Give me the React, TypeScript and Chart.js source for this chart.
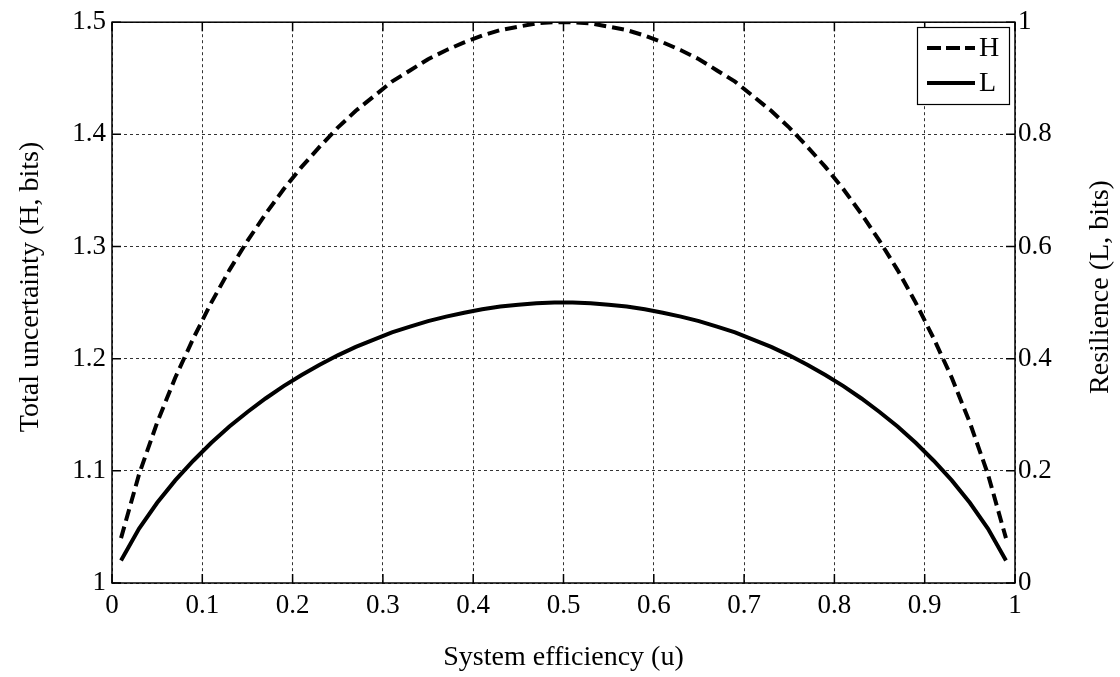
import { useEffect, useRef } from 'react';
import { Chart, registerables } from 'chart.js';

Chart.register(...registerables);

// ---- data ----
const efficiency = [
  0.01, 0.03, 0.05, 0.07, 0.09, 0.11, 0.13, 0.15, 0.17, 0.19,
  0.21, 0.23, 0.25, 0.27, 0.29, 0.31, 0.33, 0.35, 0.37, 0.39,
  0.41, 0.43, 0.45, 0.47, 0.49, 0.51, 0.53, 0.55, 0.57, 0.59,
  0.61, 0.63, 0.65, 0.67, 0.69, 0.71, 0.73, 0.75, 0.77, 0.79,
  0.81, 0.83, 0.85, 0.87, 0.89, 0.91, 0.93, 0.95, 0.97, 0.99,
];
const totalUncertaintyH = [
  1.040, 1.097, 1.143, 1.183, 1.218, 1.250, 1.279, 1.305, 1.329, 1.351,
  1.371, 1.389, 1.406, 1.421, 1.434, 1.447, 1.457, 1.467, 1.475, 1.482,
  1.488, 1.493, 1.496, 1.499, 1.500, 1.500, 1.499, 1.496, 1.493, 1.488,
  1.482, 1.475, 1.467, 1.457, 1.447, 1.434, 1.421, 1.406, 1.389, 1.371,
  1.351, 1.329, 1.305, 1.279, 1.250, 1.218, 1.183, 1.143, 1.097, 1.040,
];
const resilienceL = [
  0.040, 0.097, 0.143, 0.183, 0.218, 0.250, 0.279, 0.305, 0.329, 0.351,
  0.371, 0.389, 0.406, 0.421, 0.434, 0.447, 0.457, 0.467, 0.475, 0.482,
  0.488, 0.493, 0.496, 0.499, 0.500, 0.500, 0.499, 0.496, 0.493, 0.488,
  0.482, 0.475, 0.467, 0.457, 0.447, 0.434, 0.421, 0.406, 0.389, 0.371,
  0.351, 0.329, 0.305, 0.279, 0.250, 0.218, 0.183, 0.143, 0.097, 0.040,
];
const seriesNames = ['H', 'L'];

const xTickValues = [0, 0.1, 0.2, 0.3, 0.4, 0.5, 0.6, 0.7, 0.8, 0.9, 1];
const xTickLabels = ['0', '0.1', '0.2', '0.3', '0.4', '0.5', '0.6', '0.7', '0.8', '0.9', '1'];
const leftTickValues = [1, 1.1, 1.2, 1.3, 1.4, 1.5];
const leftTickLabels = ['1', '1.1', '1.2', '1.3', '1.4', '1.5'];
const rightTickValues = [0, 0.2, 0.4, 0.6, 0.8, 1];
const rightTickLabels = ['0', '0.2', '0.4', '0.6', '0.8', '1'];

const xTitle = 'System efficiency (u)';
const leftTitle = 'Total uncertainty (H, bits)';
const rightTitle = 'Resilience (L, bits)';

const FONT = "'Liberation Serif', 'Times New Roman', serif";
const TICK_FONT = { family: FONT, size: 27 };

const framePlugin = {
  id: 'matlabFrame',
  afterDraw(chart: any) {
    const { ctx, chartArea } = chart;
    const { left, right, top, bottom } = chartArea;
    const xs = chart.scales.x;
    const yl = chart.scales.y;
    const yr = chart.scales.y1;
    const tl = 9;
    ctx.save();
    ctx.strokeStyle = '#000';
    ctx.lineWidth = 1.5;
    ctx.setLineDash([]);
    // inward tick marks
    ctx.beginPath();
    xs.ticks.forEach((t: any) => {
      const px = xs.getPixelForValue(t.value);
      ctx.moveTo(px, bottom);
      ctx.lineTo(px, bottom - tl);
      ctx.moveTo(px, top);
      ctx.lineTo(px, top + tl);
    });
    yl.ticks.forEach((t: any) => {
      const py = yl.getPixelForValue(t.value);
      ctx.moveTo(left, py);
      ctx.lineTo(left + tl, py);
    });
    yr.ticks.forEach((t: any) => {
      const py = yr.getPixelForValue(t.value);
      ctx.moveTo(right, py);
      ctx.lineTo(right - tl, py);
    });
    ctx.stroke();
    // frame
    ctx.strokeRect(left, top, right - left, bottom - top);

    // legend
    const bx = 917, by = 27, bw = 92, bh = 77;
    ctx.fillStyle = '#fff';
    ctx.fillRect(bx, by, bw, bh);
    ctx.lineWidth = 1.2;
    ctx.strokeRect(bx + 0.5, by + 0.5, bw, bh);
    const rows = [48, 83];
    chart.data.datasets.forEach((ds: any, i: number) => {
      const y = rows[i];
      ctx.save();
      ctx.strokeStyle = ds.borderColor;
      ctx.lineWidth = ds.borderWidth;
      ctx.setLineDash(ds.borderDash && ds.borderDash.length ? [14, 5] : []);
      ctx.beginPath();
      ctx.moveTo(927, y);
      ctx.lineTo(975, y);
      ctx.stroke();
      ctx.restore();
      ctx.fillStyle = '#000';
      ctx.font = `28px ${FONT}`;
      ctx.textAlign = 'left';
      ctx.textBaseline = 'middle';
      ctx.fillText(ds.label, 979, y + 1);
    });

    // axis titles
    ctx.fillStyle = '#000';
    ctx.font = `28px ${FONT}`;
    ctx.textAlign = 'center';
    ctx.textBaseline = 'alphabetic';
    ctx.fillText(xTitle, (left + right) / 2, 665);
    ctx.save();
    ctx.translate(38, 287);
    ctx.rotate(-Math.PI / 2);
    ctx.fillText(leftTitle, 0, 0);
    ctx.restore();
    ctx.save();
    ctx.translate(1108, 287);
    ctx.rotate(-Math.PI / 2);
    ctx.fillText(rightTitle, 0, 0);
    ctx.restore();
    ctx.restore();
  },
};

export default function App() {
  const ref = useRef<HTMLCanvasElement | null>(null);
  useEffect(() => {
    if (!ref.current) return;
    const chart = new Chart(ref.current, {
      type: 'line',
      data: {
        datasets: [
          {
            label: seriesNames[0],
            data: efficiency.map((u, i) => ({ x: u, y: totalUncertaintyH[i] })),
            yAxisID: 'y',
            borderColor: '#000',
            borderWidth: 4,
            borderDash: [12, 6],
            pointRadius: 0,
            fill: false,
            tension: 0,
          },
          {
            label: seriesNames[1],
            data: efficiency.map((u, i) => ({ x: u, y: resilienceL[i] })),
            yAxisID: 'y1',
            borderColor: '#000',
            borderWidth: 4,
            borderDash: [],
            pointRadius: 0,
            fill: false,
            tension: 0,
          },
        ],
      },
      options: {
        animation: false,
        responsive: false,
        devicePixelRatio: 1,
        layout: { padding: { top: 19, left: 0, right: 0, bottom: 0 } },
        plugins: { legend: { display: false }, tooltip: { enabled: false } },
        scales: {
          x: {
            type: 'linear',
            min: 0,
            max: 1,
            afterBuildTicks: (s: any) => {
              s.ticks = xTickValues.map((v) => ({ value: v }));
            },
            afterFit: (s: any) => {
              s.height = 94;
            },
            ticks: {
              callback: (_v: any, i: number) => xTickLabels[i],
              font: TICK_FONT,
              color: '#000',
              padding: 7,
              maxRotation: 0,
              autoSkip: false,
            },
            grid: { color: '#333', lineWidth: 1, drawTicks: false },
            border: { display: false, dash: [3, 3] },
          },
          y: {
            type: 'linear',
            position: 'left',
            min: 1,
            max: 1.5,
            afterBuildTicks: (s: any) => {
              s.ticks = leftTickValues.map((v) => ({ value: v }));
            },
            afterFit: (s: any) => {
              s.width = 112;
            },
            ticks: {
              callback: (_v: any, i: number) => leftTickLabels[i],
              font: TICK_FONT,
              color: '#000',
              padding: 6,
              autoSkip: false,
            },
            grid: { color: '#333', lineWidth: 1, drawTicks: false },
            border: { display: false, dash: [3, 3] },
          },
          y1: {
            type: 'linear',
            position: 'right',
            min: 0,
            max: 1,
            afterBuildTicks: (s: any) => {
              s.ticks = rightTickValues.map((v) => ({ value: v }));
            },
            afterFit: (s: any) => {
              s.width = 105;
            },
            ticks: {
              callback: (_v: any, i: number) => rightTickLabels[i],
              font: TICK_FONT,
              color: '#000',
              padding: 3,
              autoSkip: false,
            },
            grid: { display: false, drawTicks: false, drawOnChartArea: false },
            border: { display: false },
          },
        },
      },
      plugins: [framePlugin],
    });
    return () => chart.destroy();
  }, []);
  return (
    <div style={{ position: 'fixed', left: 0, top: 0, width: 1120, height: 677, background: '#fff' }}>
      <canvas ref={ref} width={1120} height={677} style={{ display: 'block' }} />
    </div>
  );
}
